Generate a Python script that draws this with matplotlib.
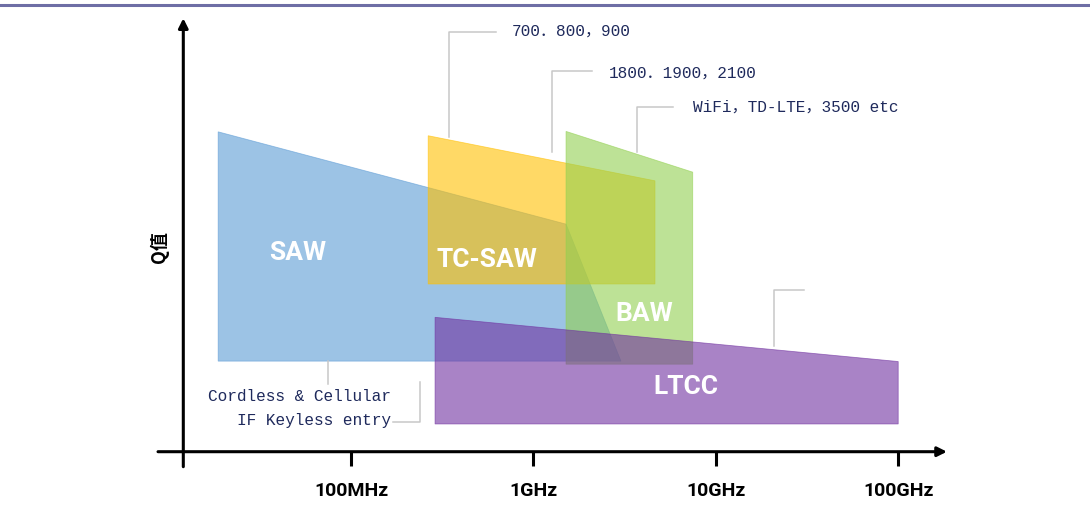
import matplotlib.pyplot as plt
from matplotlib import font_manager

# ===== Données : bandes de fréquence (Hz) et facteur Q relatif =====
saw_freq = [18.7e6, 1.51e9, 3.02e9, 18.7e6]
saw_q = [73.8, 52.5, 20.9, 20.9]

tcsaw_freq = [265e6, 4.64e9, 4.64e9, 265e6]
tcsaw_q = [72.9, 62.5, 38.7, 38.7]

baw_freq = [1.51e9, 7.47e9, 7.47e9, 1.51e9]
baw_q = [73.9, 64.5, 20.2, 20.2]

ltcc_freq = [289e6, 100e9, 100e9, 289e6]
ltcc_q = [31.0, 20.8, 6.4, 6.4]

tick_freq = [100e6, 1e9, 10e9, 100e9]
tick_labels = ["100MHz", "1GHz", "10GHz", "100GHz"]

band_labels = ["700．800，900", "1800．1900，2100", "WiFi，TD-LTE，3500 etc"]

# ===== Polices =====
names = {f.name for f in font_manager.fontManager.ttflist}
narrow = "Liberation Sans Narrow" if "Liberation Sans Narrow" in names else "Roboto"
mono = ["Liberation Mono", "Noto Sans CJK SC", "DejaVu Sans Mono"]

fig = plt.figure(figsize=(10.9, 5.1), dpi=100)
ax = fig.add_axes([0, 0, 1, 1])
ax.set_xscale("log")
ax.set_xlim(10 ** 6.0757, 10 ** 12.0515)
ax.set_ylim(-13.22, 104.45)
ax.axis("off")

# ===== Zones =====
zones = [
    (saw_freq, saw_q, "#5B9BD5"),
    (tcsaw_freq, tcsaw_q, "#FFC000"),
    (baw_freq, baw_q, "#92D050"),
    (ltcc_freq, ltcc_q, "#7030A0"),
]
for fx, qy, col in zones:
    ax.fill(fx, qy, facecolor=col, alpha=0.6, edgecolor=col, lw=0.6)

lab = dict(color="white", fontsize=19, fontweight="bold", family=narrow,
           ha="center", va="center")
ax.text(51e6, 46.1, "SAW", **lab)
ax.text(555e6, 44.4, "TC-SAW", **lab)
ax.text(4.05e9, 32.0, "BAW", **lab)
ax.text(6.87e9, 15.2, "LTCC", **lab)

# ===== Lignes de rappel =====
gris = dict(color="#C8C8C8", lw=1.1)
ax.plot([623e6, 345e6, 345e6], [96.8, 96.8, 72.6], **gris)
ax.plot([2.09e9, 1.265e9, 1.265e9], [87.9, 87.9, 69.2], **gris)
ax.plot([5.82e9, 3.70e9, 3.70e9], [79.6, 79.6, 69.2], **gris)
ax.plot([30.5e9, 20.8e9, 20.8e9], [37.4, 37.4, 24.5], **gris)
ax.plot([74.5e6, 74.5e6], [20.9, 15.6], **gris)
ax.plot([170e6, 239e6, 239e6], [6.8, 6.8, 16.0], **gris)

txt = dict(color="#1F2A5C", fontsize=11.6, family=mono, va="center")
ax.text(763e6, 97.3, band_labels[0], ha="left", **txt)
ax.text(2.60e9, 87.6, band_labels[1], ha="left", **txt)
ax.text(7.50e9, 79.8, band_labels[2], ha="left", **txt)
ax.text(166e6, 12.9, "Cordless & Cellular", ha="right", **txt)
ax.text(166e6, 7.4, "IF Keyless entry", ha="right", **txt)

# ===== Axes dessinés =====
ax.annotate("", xy=(185e9, 0), xytext=(8.75e6, 0),
            arrowprops=dict(arrowstyle="-|>", lw=2.2, color="black",
                            mutation_scale=14, shrinkA=0, shrinkB=0))
ax.annotate("", xy=(12.04e6, 100), xytext=(12.04e6, -3.46),
            arrowprops=dict(arrowstyle="-|>", lw=2.2, color="black",
                            mutation_scale=14, shrinkA=0, shrinkB=0))
for f, t in zip(tick_freq, tick_labels):
    ax.plot([f, f], [0, -3.3], color="black", lw=2.2, solid_capstyle="butt")
    ax.text(f, -8.8, t, ha="center", va="center", fontsize=14,
            fontweight="bold", family=narrow)

ax.text(10 ** 6.947, 47.5, "Q值", rotation=90, ha="center", va="center",
        fontsize=13, fontweight="bold",
        family=["Noto Sans CJK SC", "DejaVu Sans"])

# Trait de titre en haut
fig.add_artist(plt.Line2D([0, 1], [1 - 5.5 / 510] * 2, color="#6E6EA5",
                          lw=2.2, transform=fig.transFigure))

fig.savefig("out.png", dpi=100)
